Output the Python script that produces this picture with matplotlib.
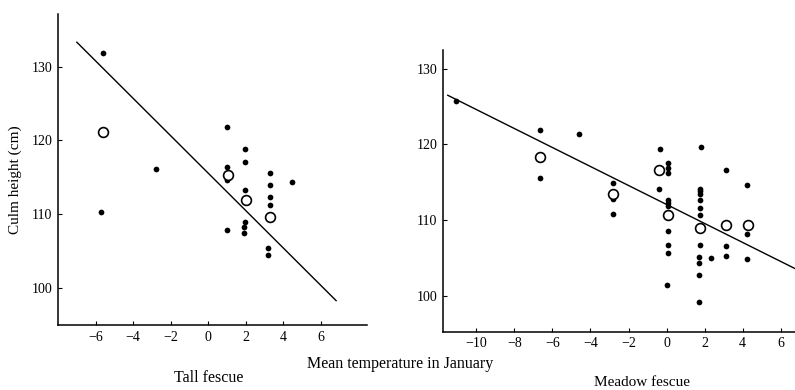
import matplotlib
matplotlib.use("Agg")
import matplotlib.pyplot as plt

plt.rcParams['font.family'] = ['Liberation Serif', 'DejaVu Serif']

# Tall fescue
tall_dot_x = [-5.6, -5.7, -2.8, 1.0, 1.0, 1.0, 1.0, 1.0, 1.95, 1.95, 1.95, 1.95, 1.9, 1.9,
              3.3, 3.3, 3.3, 3.3, 3.2, 3.2, 4.45]
tall_dot_y = [131.9, 110.3, 116.1, 121.8, 116.4, 115.2, 114.7, 107.9, 118.8, 117.1, 113.3,
              108.9, 108.3, 107.4, 115.6, 114.0, 112.3, 111.3, 105.4, 104.5, 114.4]
tall_open_x = [-5.6, 1.05, 2.0, 3.3]
tall_open_y = [121.1, 115.3, 111.9, 109.6]
tall_line_x = [-7.0, 6.8]
tall_line_y = [133.3, 98.3]

# Meadow fescue
meadow_dot_x = [-11.05, -6.64, -6.64, -4.6, -2.82, -2.82, -2.82, -0.36, -0.4,
                0.1, 0.1, 0.1, 0.1, 0.1, 0.1, 0.05, 0.05, 0.05, 0.0,
                1.83, 1.75, 1.75, 1.75, 1.75, 1.75, 1.75, 1.7, 1.75, 1.7, 1.7, 1.7, 1.7,
                2.35, 3.1, 3.1, 3.1, 4.25, 4.25, 4.25]
meadow_dot_y = [125.7, 121.9, 115.6, 121.4, 114.9, 112.8, 110.8, 119.4, 114.1,
                117.6, 116.9, 116.2, 112.7, 112.3, 111.8, 108.5, 106.7, 105.7, 101.4,
                119.7, 114.1, 113.9, 113.5, 112.6, 111.6, 110.7, 109.1, 106.7, 105.1, 104.3, 102.7, 99.1,
                105.0, 116.6, 106.5, 105.3, 114.6, 108.1, 104.9]
meadow_open_x = [-6.67, -2.8, -0.4, 0.1, 1.75, 3.1, 4.3]
meadow_open_y = [118.3, 113.5, 116.6, 110.7, 109.0, 109.4, 109.3]
meadow_line_x = [-11.5, 6.73]
meadow_line_y = [126.5, 103.6]

tall_xticks = [-6, -4, -2, 0, 2, 4, 6]
meadow_xticks = [-10, -8, -6, -4, -2, 0, 2, 4, 6]
yticks = [100, 110, 120, 130]


def fmt(v):
    return ('\u2212' + str(-v)) if v < 0 else str(v)


fig = plt.figure(figsize=(7.95, 3.9), dpi=100)
ax1 = fig.add_axes([0.073, 0.1667, 0.389, 0.797])
ax2 = fig.add_axes([0.557, 0.149, 0.443, 0.723])

for ax, dx, dy, ox, oy, lx, ly, xt, xl, yl in [
        (ax1, tall_dot_x, tall_dot_y, tall_open_x, tall_open_y, tall_line_x, tall_line_y,
         tall_xticks, (-8.0, 8.46), (95.0, 137.1)),
        (ax2, meadow_dot_x, meadow_dot_y, meadow_open_x, meadow_open_y, meadow_line_x, meadow_line_y,
         meadow_xticks, (-11.76, 6.75), (95.2, 132.5))]:
    ax.plot(lx, ly, color='black', lw=1.0, zorder=2, clip_on=False)
    ax.scatter(dx, dy, s=17, color='black', zorder=3, linewidths=0, clip_on=False)
    ax.scatter(ox, oy, s=50, facecolor='white', edgecolor='black', linewidths=1.2, zorder=4, clip_on=False)
    ax.set_xlim(*xl)
    ax.set_ylim(*yl)
    ax.set_xticks(xt)
    ax.set_xticklabels([fmt(v) for v in xt])
    ax.set_yticks(yticks)
    ax.set_yticklabels([str(v) for v in yticks])
    for s in ['top', 'right']:
        ax.spines[s].set_visible(False)
    for s in ['left', 'bottom']:
        ax.spines[s].set_linewidth(1.1)
    ax.tick_params(direction='in', length=3, width=0.8, labelsize=10, pad=4)

fig.text(0.019, 0.538, 'Culm height (cm)', rotation=90, ha='center', va='center', fontsize=11)
fig.text(0.503, 0.067, 'Mean temperature in January', ha='center', va='center', fontsize=11.5)
fig.text(0.262, 0.031, 'Tall fescue', ha='center', va='center', fontsize=11.5)
fig.text(0.808, 0.018, 'Meadow fescue', ha='center', va='center', fontsize=11)

fig.savefig('out.png', dpi=100)
